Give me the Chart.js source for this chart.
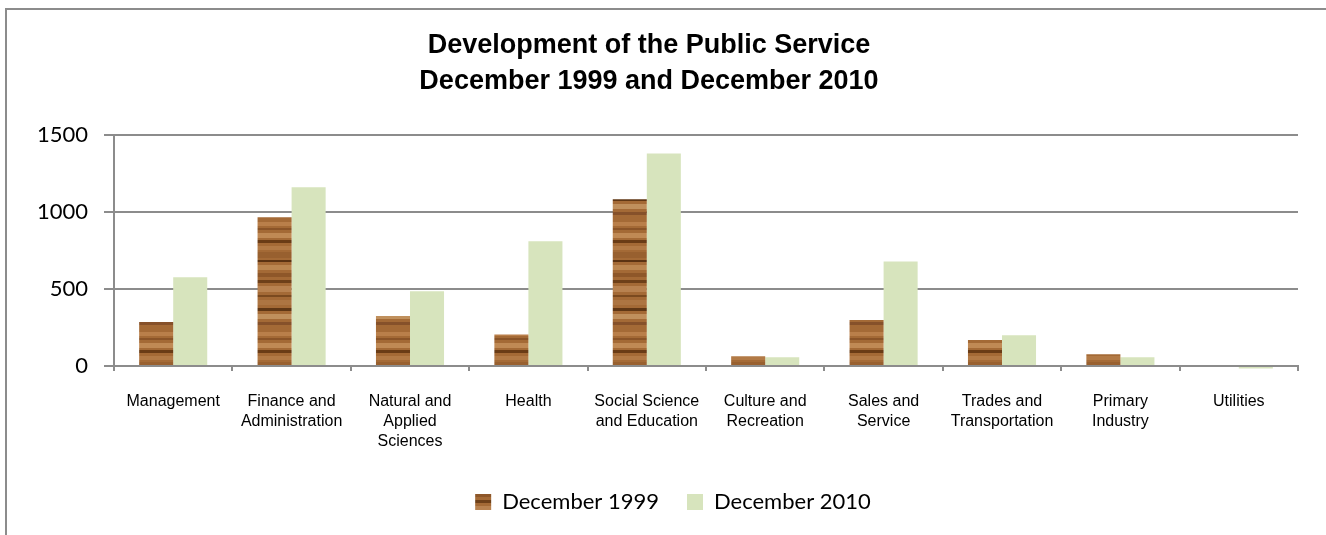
<!DOCTYPE html>
<html>
<head>
<meta charset="utf-8">
<script src="https://cdn.jsdelivr.net/npm/chart.js@4.4.1/dist/chart.umd.min.js"></script>
<style>
  html, body { margin: 0; padding: 0; background: #fff; overflow: hidden; }
  #frame {
    position: absolute; left: 5px; top: 8px; width: 1340px; height: 560px;
    border-left: 2px solid #8c8c8c; border-top: 2px solid #8c8c8c;
  }
  #wrap { position: absolute; left: 0; top: 0; width: 1326px; height: 535px; }
</style>
</head>
<body>
<div id="frame"></div>
<div id="wrap"><canvas id="chart" width="1326" height="535"></canvas></div>
<script>
const categories = [
  'Management',
  ['Finance and', 'Administration'],
  ['Natural and', 'Applied', 'Sciences'],
  'Health',
  ['Social Science', 'and Education'],
  ['Culture and', 'Recreation'],
  ['Sales and', 'Service'],
  ['Trades and', 'Transportation'],
  ['Primary', 'Industry'],
  'Utilities',
];
const dec1999 = [285, 965, 325, 205, 1082, 63, 298, 169, 76, 0];
const dec2010 = [576, 1160, 485, 809, 1380, 56, 679, 199, 56, -17];
const seriesNames = ['December 1999', 'December 2010'];
const yTicks = [0, 500, 1000, 1500];

// wood-grain fill for the 1999 bars
function woodPattern(ctx) {
  const c = document.createElement('canvas');
  c.width = 40;
  c.height = 110;
  const g = c.getContext('2d');
  g.fillStyle = '#a46a36';
  g.fillRect(0, 0, c.width, c.height);
  const bands = [
    [2, 4, '#b97f4a'], [8, 2, '#8a5428'], [13, 5, '#c08a55'], [20, 3, '#6a3c16'],
    [26, 4, '#b27a46'], [32, 6, '#98602f'], [40, 2, '#5c3312'], [45, 5, '#bb8650'],
    [53, 4, '#8e5729'], [60, 3, '#6e4019'], [66, 6, '#b88250'], [75, 2, '#7b4a1f'],
    [80, 5, '#ad7542'], [88, 3, '#603715'], [94, 5, '#c0905d'], [102, 3, '#86512a'],
  ];
  bands.forEach(([y, h, col]) => {
    g.fillStyle = col;
    g.fillRect(0, y, c.width, h);
  });
  return ctx.createPattern(c, 'repeat');
}

// the legend sits a little right of the page centre in the original
const legendNudge = {
  id: 'legendNudge',
  afterLayout(chart) {
    const l = chart.legend;
    if (!l) return;
    l.left += 24;
    l.right += 24;
  },
};

const canvas = document.getElementById('chart');
const ctx = canvas.getContext('2d');
const wood = woodPattern(ctx);
const gridGray = '#8c8c8c';

new Chart(canvas, {
  type: 'bar',
  data: {
    labels: categories,
    datasets: [
      {
        label: seriesNames[0],
        data: dec1999,
        backgroundColor: wood,
        borderWidth: 0,
        clip: false,
      },
      {
        label: seriesNames[1],
        data: dec2010,
        backgroundColor: '#d7e4bd',
        borderWidth: 0,
        clip: false,
      },
    ],
  },
  plugins: [legendNudge],
  options: {
    responsive: false,
    animation: false,
    layout: { padding: { left: 0, right: 28, top: 0, bottom: 12 } },
    datasets: {
      bar: { barPercentage: 1, categoryPercentage: 0.575 },
    },
    plugins: {
      title: {
        display: true,
        text: ['Development of the Public Service', 'December 1999 and December 2010'],
        color: '#000',
        font: { family: '"Liberation Sans", Arial, sans-serif', size: 27, weight: 'bold', lineHeight: 1.35 },
        padding: { top: 27, bottom: 35 },
      },
      legend: {
        position: 'bottom',
        labels: {
          color: '#000',
          font: { family: 'Lato, "Open Sans", sans-serif', size: 22 },
          boxWidth: 16,
          boxHeight: 16,
          padding: 28,
        },
      },
      tooltip: { enabled: false },
    },
    scales: {
      x: {
        grid: {
          display: true,
          drawOnChartArea: false,
          drawTicks: true,
          tickLength: 5,
          offset: true,
          color: gridGray,
          lineWidth: 2,
        },
        border: { color: gridGray, width: 2 },
        ticks: {
          color: '#000',
          padding: 21,
          maxRotation: 0,
          autoSkip: false,
          font: { family: '"Liberation Sans", Arial, sans-serif', size: 16, lineHeight: 1.25 },
        },
        afterFit(scale) { scale.height = 97; },
      },
      y: {
        min: 0,
        max: 1500,
        afterBuildTicks(scale) { scale.ticks = yTicks.map(v => ({ value: v })); },
        grid: { color: gridGray, lineWidth: 2, tickLength: 10 },
        border: { color: gridGray, width: 2 },
        ticks: {
          color: '#000',
          padding: 16,
          font: { family: 'Lato, "Open Sans", sans-serif', size: 22 },
          callback: (value) => String(value),
        },
        afterFit(scale) { scale.width = 114; },
      },
    },
  },
});
</script>
</body>
</html>
